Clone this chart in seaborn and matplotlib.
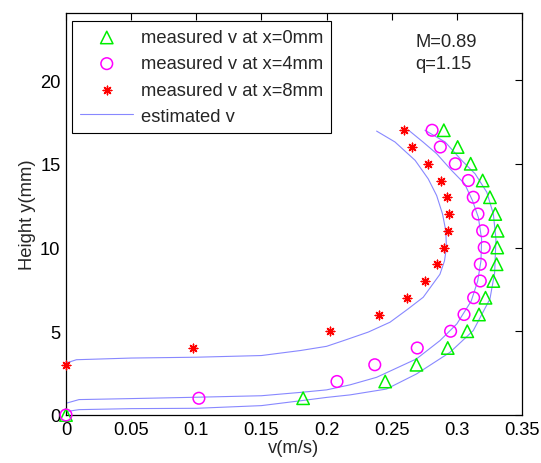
import numpy as np
import pandas as pd
import matplotlib
matplotlib.use("Agg")
import matplotlib.pyplot as plt
import seaborn as sns

# ---- data ----
h_tri = [0, 1, 2, 3, 4, 5, 6, 7, 8, 9, 10, 11, 12, 13, 14, 15, 16, 17]
v_tri = [0.0, 0.182, 0.245, 0.269, 0.293, 0.308, 0.317, 0.322, 0.328, 0.3305, 0.331, 0.3313,
         0.3295, 0.3254, 0.3198, 0.3106, 0.3006, 0.290]

h_circ = [0, 1, 2, 3, 4, 5, 6, 7, 8, 9, 10, 11, 12, 13, 14, 15, 16, 17]
v_circ = [0.0, 0.102, 0.208, 0.237, 0.2696, 0.2952, 0.3055, 0.3129, 0.318, 0.318, 0.321, 0.3198,
          0.3162, 0.3126, 0.3088, 0.2988, 0.2873, 0.281]

h_star = [3, 4, 5, 6, 7, 8, 9, 10, 11, 12, 13, 14, 15, 16, 17]
v_star = [0.0, 0.0972, 0.2026, 0.2402, 0.2615, 0.2753, 0.2847, 0.2904, 0.2934, 0.2942,
          0.2921, 0.2875, 0.2776, 0.2655, 0.2597]

# estimated curves (x = 8 mm, 4 mm, 0 mm)
est8_v = [0.0, 0.008, 0.05, 0.1, 0.15, 0.18, 0.2, 0.213, 0.232, 0.2487, 0.262, 0.2742, 0.287,
          0.2905, 0.292, 0.2915, 0.289, 0.2845, 0.278, 0.268, 0.2525, 0.2384]
est8_h = [3.1, 3.3, 3.4, 3.45, 3.55, 3.85, 4.1, 4.44, 4.95, 5.54, 6.3, 7.03, 8.4,
          9.2, 10.0, 11.0, 12.0, 13.1, 14.1, 15.2, 16.3, 16.95]

est4_v = [0.0, 0.01, 0.05, 0.1, 0.15, 0.18, 0.2, 0.218, 0.2384, 0.269, 0.287, 0.300, 0.311,
          0.316, 0.3185, 0.319, 0.3165, 0.312, 0.306, 0.296, 0.2845, 0.274, 0.263]
est4_h = [0.7, 0.92, 0.98, 1.06, 1.15, 1.35, 1.5, 1.8, 2.25, 3.35, 4.44, 5.44, 6.8,
          8.0, 9.2, 10.5, 11.8, 12.8, 13.8, 14.6, 15.6, 16.3, 17.0]

est0_v = [0.0, 0.01, 0.05, 0.1, 0.15, 0.18, 0.2, 0.218, 0.246, 0.269, 0.2947, 0.3126, 0.3254,
          0.329, 0.330, 0.328, 0.323, 0.314, 0.3037, 0.291, 0.2755]
est0_h = [0.2, 0.32, 0.38, 0.4, 0.56, 0.85, 1.05, 1.2, 1.55, 2.45, 3.74, 5.04, 6.93,
          8.5, 10.5, 12.0, 13.3, 14.4, 15.2, 16.3, 17.0]

x_ticks = [0, 0.05, 0.1, 0.15, 0.2, 0.25, 0.3, 0.35]
x_ticklabels = ["0", "0.05", "0.1", "0.15", "0.2", "0.25", "0.3", "0.35"]
y_ticks = [0, 5, 10, 15, 20]

# ---- styling ----
sns.set_style("white")
plt.rcParams["font.family"] = ["Liberation Sans", "DejaVu Sans"]
FS = 13.2
plt.rcParams["font.size"] = FS

fig = plt.figure(figsize=(5.41, 4.64), dpi=100)
ax = fig.add_axes([66 / 541, 1 - 416 / 464, (522 - 66) / 541, (416 - 14) / 464])

df_tri = pd.DataFrame({"v": v_tri, "h": h_tri})
df_circ = pd.DataFrame({"v": v_circ, "h": h_circ})
df_star = pd.DataFrame({"v": v_star, "h": h_star})

curves = pd.concat([
    pd.DataFrame({"v": est8_v, "h": est8_h, "c": "x8"}),
    pd.DataFrame({"v": est4_v, "h": est4_h, "c": "x4"}),
    pd.DataFrame({"v": est0_v, "h": est0_h, "c": "x0"}),
], ignore_index=True)

sns.scatterplot(data=df_tri, x="v", y="h", ax=ax, marker="^", s=80,
                facecolor="none", edgecolor="#00ee00", linewidth=1.1,
                label="measured v at x=0mm", zorder=3, clip_on=False)
sns.scatterplot(data=df_circ, x="v", y="h", ax=ax, marker="o", s=70,
                facecolor="none", edgecolor="#ff00ff", linewidth=1.1,
                label="measured v at x=4mm", zorder=4, clip_on=False)
sns.scatterplot(data=df_star, x="v", y="h", ax=ax, marker=(8, 2, 0), s=38,
                color="#ff0000", edgecolor="#ff0000", linewidth=1.0,
                label="measured v at x=8mm", zorder=3, clip_on=False)
sns.lineplot(data=curves, x="v", y="h", units="c", estimator=None, sort=False,
             ax=ax, color="#8888ff", linewidth=0.8, label="estimated v", zorder=2)

ax.set_xlim(0, 0.35)
ax.set_ylim(0, 24)
ax.set_xticks(x_ticks)
ax.set_xticklabels(x_ticklabels)
ax.set_yticks(y_ticks)
ax.tick_params(direction="in", length=5, width=0.8, top=True, right=True,
               labelsize=FS, pad=4, colors="black")
for s in ax.spines.values():
    s.set_visible(True)
    s.set_color("black")
    s.set_linewidth(0.9)

ax.set_xlabel("v(m/s)", fontsize=FS, labelpad=1)
ax.set_ylabel("Height y(mm)", fontsize=FS, labelpad=3)

ax.text(0.268, 22.3, "M=0.89", fontsize=FS, ha="left", va="center")
ax.text(0.268, 21.0, "q=1.15", fontsize=FS, ha="left", va="center")

handles, labels = ax.get_legend_handles_labels()
seen = {}
for hd, lb in zip(handles, labels):
    if lb not in seen:
        seen[lb] = hd
leg = ax.legend(list(seen.values()), list(seen.keys()),
                loc="upper left", bbox_to_anchor=(0.013, 0.98), fontsize=FS,
                frameon=True, fancybox=False, edgecolor="black", framealpha=1,
                handlelength=2.9, handletextpad=0.4, labelspacing=0.5,
                borderpad=0.45, borderaxespad=0.0)
leg.get_frame().set_linewidth(0.8)

fig.savefig("out.png", dpi=100)
